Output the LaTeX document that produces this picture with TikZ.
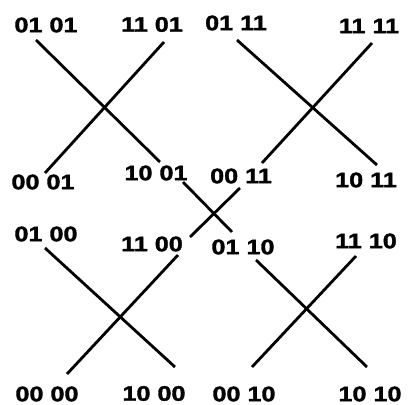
\documentclass[tikz,border=0pt]{standalone}
\usepackage{fontspec}
\setmainfont{Liberation Sans}[FakeStretch=1.2,BoldFeatures={FakeBold=1.6}]
\begin{document}
\begin{tikzpicture}[x=1pt,y=-1pt,
  lbl/.style={inner sep=0pt, font=\fontsize{21}{21}\selectfont\bfseries},
  wire/.style={line width=2.8pt, black}]
\useasboundingbox (0,0) rectangle (408,405);
% labels
\node[lbl] (l0101) at (46,25) {01 01};
\node[lbl] (l1101) at (152,24.5) {11 01};
\node[lbl] (l0001) at (43,182) {00 01};
\node[lbl] (l1001) at (156,173) {10 01};
\node[lbl] (l0111) at (236,23) {01 11};
\node[lbl] (l1111) at (369,26) {11 11};
\node[lbl] (l0011) at (241,176) {00 11};
\node[lbl] (l1011) at (366,180) {10 11};
\node[lbl] (l0100) at (46,234) {01 00};
\node[lbl] (l1100) at (152,244) {11 00};
\node[lbl] (l0000) at (47,394) {00 00};
\node[lbl] (l1000) at (154,393.5) {10 00};
\node[lbl] (l0110) at (243,247) {01 10};
\node[lbl] (l1110) at (366,241) {11 10};
\node[lbl] (l0010) at (244,394) {00 10};
\node[lbl] (l1010) at (370,394) {10 10};
% line ends
\coordinate (a1) at (36,40);   \coordinate (a2) at (160,162);
\coordinate (b1) at (164,42);  \coordinate (b2) at (45,173);
\coordinate (c1) at (183,182); \coordinate (c2) at (232,232);
\coordinate (d1) at (240,188); \coordinate (d2) at (190,237);
\coordinate (e1) at (237,40);  \coordinate (e2) at (377,165);
\coordinate (f1) at (372,43);  \coordinate (f2) at (262,163);
\coordinate (g1) at (45,248);  \coordinate (g2) at (175,367);
\coordinate (h1) at (178,255); \coordinate (h2) at (67,374);
\coordinate (i1) at (256,260); \coordinate (i2) at (367,367);
\coordinate (j1) at (356,256); \coordinate (j2) at (252,367);
\foreach \p/\q in {a1/a2,b1/b2,c1/c2,d1/d2,e1/e2,f1/f2,g1/g2,h1/h2,i1/i2,j1/j2}
  \draw[wire] (\p) -- (\q);
\end{tikzpicture}
\end{document}
